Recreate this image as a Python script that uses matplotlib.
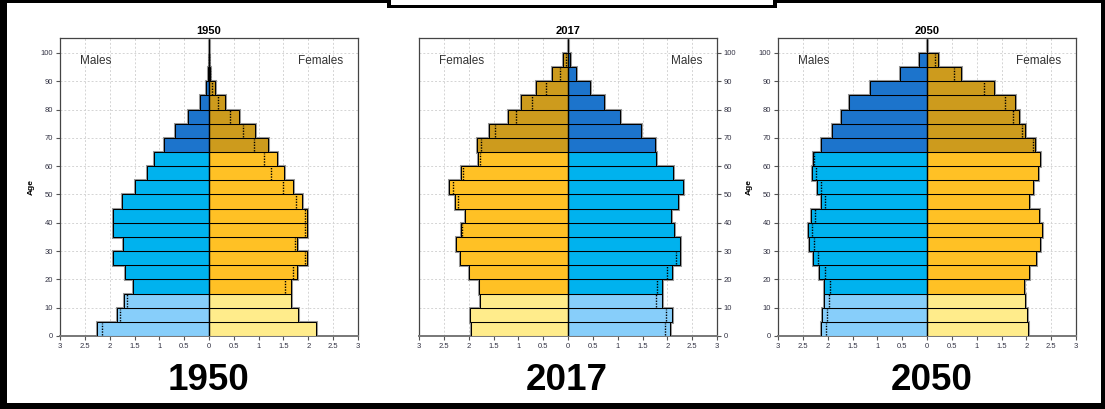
import matplotlib
matplotlib.use("Agg")
import matplotlib.pyplot as plt
from matplotlib.patches import Rectangle
import numpy as np

plt.rcParams['font.family'] = ['Liberation Sans', 'DejaVu Sans']

age_groups = list(range(0, 105, 5))  # lower bounds 0..100

males_1950 = [2.25, 1.86, 1.72, 1.54, 1.69, 1.93, 1.73, 1.93, 1.93, 1.75, 1.48,
              1.25, 1.10, 0.91, 0.69, 0.43, 0.19, 0.07, 0.02, 0.004, 0.0]
females_1950 = [2.15, 1.79, 1.65, 1.65, 1.77, 1.98, 1.77, 1.98, 1.98, 1.87, 1.70,
                1.52, 1.37, 1.19, 0.93, 0.61, 0.33, 0.12, 0.03, 0.006, 0.0]

males_2017 = [2.05, 2.09, 1.89, 1.89, 2.09, 2.26, 2.26, 2.14, 2.08, 2.22, 2.32,
              2.11, 1.77, 1.76, 1.47, 1.04, 0.72, 0.44, 0.17, 0.04, 0.0]
females_2017 = [1.95, 1.98, 1.78, 1.80, 1.99, 2.18, 2.26, 2.15, 2.08, 2.28, 2.39,
                2.16, 1.82, 1.84, 1.60, 1.20, 0.94, 0.64, 0.33, 0.11, 0.0]

males_2050 = [2.13, 2.12, 2.07, 2.07, 2.17, 2.30, 2.38, 2.40, 2.34, 2.13, 2.21,
              2.31, 2.30, 2.13, 1.91, 1.73, 1.57, 1.14, 0.55, 0.16, 0.0]
females_2050 = [2.04, 2.02, 1.97, 1.96, 2.06, 2.20, 2.28, 2.31, 2.25, 2.06, 2.14,
                2.24, 2.28, 2.17, 1.97, 1.85, 1.77, 1.34, 0.69, 0.22, 0.0]

years = ["1950", "2017", "2050"]
x_ticks = [-3, -2.5, -2, -1.5, -1, -0.5, 0, 0.5, 1, 1.5, 2, 2.5, 3]
x_tick_labels = ["3", "2.5", "2", "1.5", "1", "0.5", "0", "0.5", "1", "1.5", "2", "2.5", "3"]
y_ticks = list(range(0, 101, 10))

male_colors = {"child": "#87CEFA", "adult": "#00B2EE", "old": "#1C74CC"}
female_colors = {"child": "#FFEC8B", "adult": "#FFC125", "old": "#CD9B1D"}


def group(a):
    if a < 15:
        return "child"
    if a < 65:
        return "adult"
    return "old"


W, H = 1105, 409
fig = plt.figure(figsize=(W / 100, H / 100), dpi=100)


def draw_panel(left_px, year, males, females, mirrored):
    ax = fig.add_axes([left_px / W, (H - 336) / H, 298 / W, 298 / H])
    ages = np.array(age_groups)
    m = np.array(males)
    f = np.array(females)
    ms = 1 if mirrored else -1   # sign of male side
    fs = -ms
    mc = [male_colors[group(a)] for a in ages]
    fc = [female_colors[group(a)] for a in ages]
    # shadow halo
    ax.barh(ages, ms * m, height=5, align='edge', color='none', edgecolor='#999999', linewidth=2.2, zorder=2)
    ax.barh(ages, fs * f, height=5, align='edge', color='none', edgecolor='#999999', linewidth=2.2, zorder=2)
    ax.barh(ages, ms * m, height=5, align='edge', color=mc, edgecolor='black', linewidth=0.75, zorder=3)
    ax.barh(ages, fs * f, height=5, align='edge', color=fc, edgecolor='black', linewidth=0.75, zorder=3)
    # dotted lines marking the other sex
    for a, mv, fv in zip(ages, m, f):
        if mv == 0 and fv == 0:
            continue
        if fv < mv:
            ax.vlines(ms * fv, a + 0.3, a + 4.7, colors='black', linestyles=(0, (1, 1)), linewidth=1.0, zorder=4)
        elif mv < fv:
            ax.vlines(fs * mv, a + 0.3, a + 4.7, colors='black', linestyles=(0, (1, 1)), linewidth=1.0, zorder=4)
    ax.vlines(0, 0, 100, colors='black', linewidth=1.0, zorder=4)
    ax.set_xlim(-3, 3)
    ax.set_ylim(0, 105.3)
    ax.set_xticks(x_ticks)
    ax.set_xticklabels(x_tick_labels)
    ax.set_yticks(y_ticks)
    ax.grid(True, color='#d4d4d4', linestyle=(0, (2, 2)), linewidth=0.7)
    ax.set_axisbelow(True)
    ax.tick_params(labelsize=5.5, length=3, width=0.8, colors='#555555', labelcolor='#333344', pad=2)
    for s in ax.spines.values():
        s.set_color('#444444')
        s.set_linewidth(0.9)
    ax.spines['bottom'].set_color('#777777')
    ax.spines['bottom'].set_linewidth(1.4)
    ax.set_title(year, fontsize=8, fontweight='bold', pad=3)
    if mirrored:
        ax.yaxis.tick_right()
        ax.text(-2.6, 97, "Females", fontsize=8.5, color='#333333', ha='left', va='center', zorder=5)
        ax.text(2.7, 97, "Males", fontsize=8.5, color='#333333', ha='right', va='center', zorder=5)
    else:
        ax.set_ylabel("Age", fontsize=6, fontweight='bold', labelpad=4)
        ax.text(-2.6, 97, "Males", fontsize=8.5, color='#333333', ha='left', va='center', zorder=5)
        ax.text(2.7, 97, "Females", fontsize=8.5, color='#333333', ha='right', va='center', zorder=5)
    return ax


draw_panel(60, years[0], males_1950, females_1950, False)
draw_panel(419, years[1], males_2017, females_2017, True)
draw_panel(778, years[2], males_2050, females_2050, False)

for xc, yr in zip([208, 567, 932], years):
    fig.text(xc / W, 1 - 381 / H, yr, fontsize=26.5, fontweight='bold', ha='center', va='center',
             family=['Liberation Sans Narrow', 'Liberation Sans', 'DejaVu Sans'])

# outer frame
def rect_px(x0, y0, x1, y1, color):
    fig.patches.append(Rectangle((x0 / W, 1 - y1 / H), (x1 - x0) / W, (y1 - y0) / H,
                                 transform=fig.transFigure, facecolor=color, edgecolor='none', zorder=10))

rect_px(0, 0, 7, H, 'black')
rect_px(0, 0, W, 3, 'black')
rect_px(1101, 0, W, H, 'black')
rect_px(0, 403, W, H, 'black')
# top box
rect_px(387, 0, 777, 8, 'black')
rect_px(391, 0, 773, 4.5, 'white')

fig.savefig("out.png", dpi=100)
